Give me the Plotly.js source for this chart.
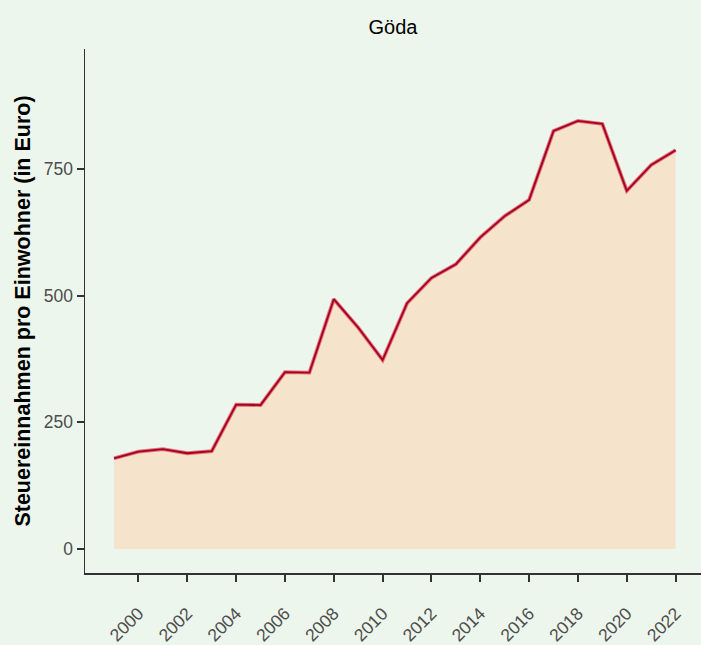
<!DOCTYPE html>
<html>
<head>
<meta charset="utf-8">
<script src="https://cdn.plot.ly/plotly-3.0.1.min.js"></script>
<style>
  html, body { margin: 0; padding: 0; background: #EDF6EC; }
  #chart { width: 701px; height: 645px; }
</style>
</head>
<body>
<div id="chart"></div>
<script>
const years = [1999, 2000, 2001, 2002, 2003, 2004, 2005, 2006, 2007, 2008, 2009, 2010,
               2011, 2012, 2013, 2014, 2015, 2016, 2017, 2018, 2019, 2020, 2021, 2022];
const values = [179, 192, 197, 189, 193, 285, 284, 349, 348, 493, 437, 373,
                485, 535, 562, 615, 657, 689, 825, 845, 839, 707, 758, 787];
const xTicks = [2000, 2002, 2004, 2006, 2008, 2010, 2012, 2014, 2016, 2018, 2020, 2022];
const yTicks = [0, 250, 500, 750];
const chartTitle = "Göda";
const yTitle = "Steuereinnahmen pro Einwohner (in Euro)";

const bg = "#EDF6EC";
const font = "Liberation Sans, Arial, Helvetica, sans-serif";

const traces = [
  {
    x: years, y: values, type: "scatter", mode: "lines",
    fill: "tozeroy", fillcolor: "#F5E3CB",
    line: { color: "rgba(220,80,100,0.8)", width: 3.8 },
    hoverinfo: "skip", showlegend: false
  },
  {
    x: years, y: values, type: "scatter", mode: "lines",
    line: { color: "#A5001E", width: 1.8 },
    showlegend: false
  }
];

const layout = {
  width: 701, height: 645,
  paper_bgcolor: bg, plot_bgcolor: bg,
  margin: { l: 85, r: 0, t: 49, b: 72 },
  font: { family: font, color: "#4D4D4D" },
  title: {
    text: chartTitle,
    font: { family: font, size: 20, color: "#000000" },
    x: 0.5, xref: "paper", xanchor: "center",
    y: 1 - 27 / 645, yref: "container", yanchor: "middle"
  },
  xaxis: {
    range: [1997.81, 2023.04],
    tickmode: "array", tickvals: xTicks, ticktext: xTicks.map(String),
    tickangle: -45,
    ticks: "outside", ticklen: 7, tickwidth: 2, tickcolor: "#333333",
    tickfont: { family: font, size: 17.5, color: "#4D4D4D" },
    ticklabelstandoff: 15,
    showline: true, linecolor: "#333333", linewidth: 1.5,
    showgrid: false, zeroline: false
  },
  yaxis: {
    range: [-47.4, 986.8],
    tickmode: "array", tickvals: yTicks, ticktext: yTicks.map(String),
    ticks: "outside", ticklen: 7, tickwidth: 2, tickcolor: "#333333",
    tickfont: { family: font, size: 17.5, color: "#4D4D4D" },
    showline: true, linecolor: "#333333", linewidth: 1.5,
    showgrid: false, zeroline: false,
    title: {
      text: yTitle,
      font: { family: font, size: 21.5, color: "#000000", weight: "bold" },
      standoff: 7
    }
  }
};

Plotly.newPlot("chart", traces, layout, { displayModeBar: false, staticPlot: true });
</script>
</body>
</html>
